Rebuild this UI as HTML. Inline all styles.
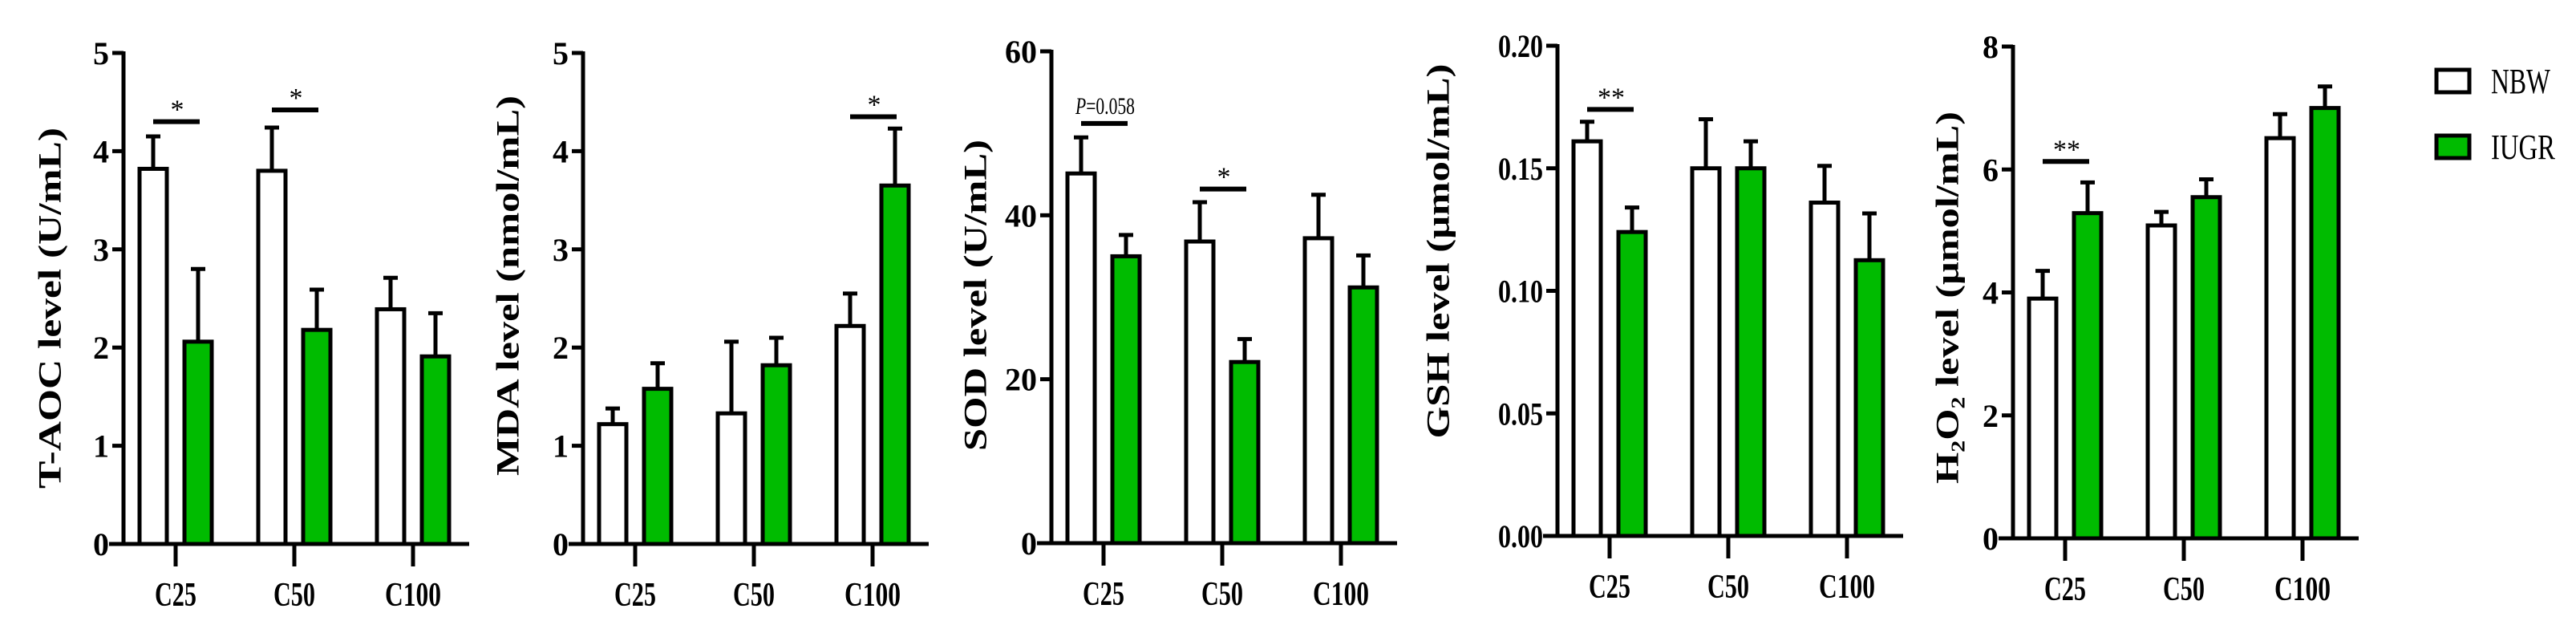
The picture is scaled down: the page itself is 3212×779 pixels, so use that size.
<!DOCTYPE html>
<html><head><meta charset="utf-8"><style>
html,body{margin:0;padding:0;background:#fff;}
svg{display:block;font-family:"Liberation Serif",serif;}
</style></head><body>
<svg id="chart" width="3212" height="779" viewBox="0 0 3212 779" xmlns="http://www.w3.org/2000/svg"></svg>
<script>
const categories = ["C25","C50","C100"];
// T-AOC
const taocNBW = [3.82, 3.80, 2.39];
const taocNBWErr = [4.15, 4.24, 2.71];
const taocIUGR = [2.06, 2.18, 1.91];
const taocIUGRErr = [2.80, 2.59, 2.35];
const taocTicks = ["0","1","2","3","4","5"];
// MDA
const mdaNBW = [1.22, 1.33, 2.22];
const mdaNBWErr = [1.38, 2.06, 2.55];
const mdaIUGR = [1.58, 1.82, 3.65];
const mdaIUGRErr = [1.84, 2.10, 4.23];
const mdaTicks = ["0","1","2","3","4","5"];
// SOD
const sodNBW = [45.1, 36.8, 37.2];
const sodNBWErr = [49.5, 41.6, 42.5];
const sodIUGR = [35.0, 22.1, 31.2];
const sodIUGRErr = [37.6, 24.9, 35.1];
const sodTicks = ["0","20","40","60"];
// GSH
const gshNBW = [0.161, 0.150, 0.136];
const gshNBWErr = [0.169, 0.170, 0.151];
const gshIUGR = [0.124, 0.150, 0.1125];
const gshIUGRErr = [0.134, 0.161, 0.1316];
const gshTicks = ["0.00","0.05","0.10","0.15","0.20"];
// H2O2
const h2o2NBW = [3.90, 5.09, 6.51];
const h2o2NBWErr = [4.35, 5.31, 6.90];
const h2o2IUGR = [5.29, 5.55, 7.00];
const h2o2IUGRErr = [5.79, 5.84, 7.35];
const h2o2Ticks = ["0","2","4","6","8"];

const NS = "http://www.w3.org/2000/svg";
const svg = document.getElementById("chart");
function mk(tag, attrs, parent){
  const e = document.createElementNS(NS, tag);
  for (const k in attrs) e.setAttribute(k, attrs[k]);
  (parent||svg).appendChild(e);
  return e;
}

const panels = [
  {key:"taoc", ax:154, top:66, zero:678, max:5, ticks:taocTicks, nbw:taocNBW, nbwE:taocNBWErr, iugr:taocIUGR, iugrE:taocIUGRErr,
   title:"T-AOC level (U/mL)", tx:62, ty:384, tl:450,
   sig:[{cat:0, y:4.30, label:"*"},{cat:1, y:4.42, label:"*"}]},
  {key:"mda", ax:727, top:66, zero:678, max:5, ticks:mdaTicks, nbw:mdaNBW, nbwE:mdaNBWErr, iugr:mdaIUGR, iugrE:mdaIUGRErr,
   title:"MDA level (nmol/mL)", tx:633, ty:356, tl:474,
   sig:[{cat:2, y:4.35, label:"*"}]},
  {key:"sod", ax:1311, top:64, zero:677, max:60, ticks:sodTicks, nbw:sodNBW, nbwE:sodNBWErr, iugr:sodIUGR, iugrE:sodIUGRErr,
   title:"SOD level (U/mL)", tx:1216, ty:368, tl:388,
   sig:[{cat:0, y:51.2, label:"P=0.058"},{cat:1, y:43.2, label:"*"}]},
  {key:"gsh", ax:1942, top:57, zero:668, max:0.20, ticks:gshTicks, nbw:gshNBW, nbwE:gshNBWErr, iugr:gshIUGR, iugrE:gshIUGRErr,
   title:"GSH level (μmol/mL)", tx:1793, ty:313, tl:467,
   sig:[{cat:0, y:0.174, label:"**"}]},
  {key:"h2o2", ax:2510, top:58, zero:671, max:8, ticks:h2o2Ticks, nbw:h2o2NBW, nbwE:h2o2NBWErr, iugr:h2o2IUGR, iugrE:h2o2IUGRErr,
   title:"H₂O₂ level (μmol/mL)", tx:2428, ty:371, tl:464,
   sig:[{cat:0, y:6.13, label:"**"}]}
];

panels.forEach(p => {
  const g = mk("g", {});
  
  
  const yS = v => p.zero - (v / p.max) * (p.zero - p.top);
  const xS = i => p.ax + 65 + i * 148;
  const bw = 34, off = 28;

  // y axis
  const ya = mk("line", {x1:p.ax, y1:p.top-2, x2:p.ax, y2:p.zero, stroke:"#000","stroke-width":5}, g);
  
  
  const n = p.ticks.length - 1;
  p.ticks.forEach((t, i) => {
    const v = p.max * i / n;
    const y = yS(v);
    const tk = mk("line", {x1:p.ax-14, y1:y, x2:p.ax, y2:y, stroke:"#000","stroke-width":5}, g);
    
    
    const attrs = {x:p.ax-18, y:y+14, "text-anchor":"end", "font-size":40, "font-weight":"bold", fill:"#000"};
    if (t.length > 2) { attrs.textLength = t.length*14; attrs.lengthAdjust = "spacingAndGlyphs"; }
    const tl = mk("text", attrs, g);
    tl.textContent = t;
    
    
  });
  // x axis
  const xa = mk("line", {x1:p.ax-18, y1:p.zero, x2:xS(2)+70, y2:p.zero, stroke:"#000","stroke-width":5}, g);
  
  

  categories.forEach((c, i) => {
    const cx = xS(i);
    const xt = mk("line", {x1:cx, y1:p.zero, x2:cx, y2:p.zero+28, stroke:"#000","stroke-width":5}, g);
    
    
    const cl = mk("text", {x:cx, y:p.zero+77, "text-anchor":"middle", "font-size":42, "font-weight":"bold",
      textLength: c.length===4 ? 70 : 52, lengthAdjust:"spacingAndGlyphs", fill:"#000"}, g);
    cl.textContent = c;
    
    

    [[p.nbw, p.nbwE, -off, "#fff", "nbw"], [p.iugr, p.iugrE, off, "#00bb00", "iugr"]].forEach(([vals, errs, dx, fill, nm]) => {
      const bx = cx + dx;
      const ye = yS(errs[i]);
      const yt = yS(vals[i]);
      const el = mk("line", {x1:bx, y1:ye, x2:bx, y2:yt, stroke:"#000","stroke-width":5}, g);
      
      
      const cap = mk("line", {x1:bx-9, y1:ye, x2:bx+9, y2:ye, stroke:"#000","stroke-width":5}, g);
      
      
      const r = mk("rect", {x:bx-bw/2, y:yt, width:bw, height:p.zero-yt, fill:fill, stroke:"#000","stroke-width":5}, g);
      
      
    });
  });

  p.sig.forEach(s => {
    const cx = xS(s.cat);
    const y = yS(s.y);
    const ln = mk("line", {x1:cx-off, y1:y, x2:cx+off+2, y2:y, stroke:"#000","stroke-width":6}, g);
    
    
    let t;
    if (s.label.startsWith("P")) {
      t = mk("text", {x:cx+2, y:y-12, "text-anchor":"middle", "font-size":30, textLength:74, lengthAdjust:"spacingAndGlyphs", fill:"#000"}, g);
      const ts = mk("tspan", {"font-style":"italic"}, t); ts.textContent = "P";
      const ts2 = mk("tspan", {}, t); ts2.textContent = "=0.058";
    } else {
      t = mk("text", {x:cx+2, y:y-4, "text-anchor":"middle", "font-size":34, fill:"#000"}, g);
      t.textContent = s.label;
    }
    
    
  });

  const tt = mk("text", {x:p.tx, y:p.ty, transform:`rotate(-90 ${p.tx} ${p.ty})`, "text-anchor":"middle",
    "dominant-baseline":"central", "font-size":40, "font-weight":"bold", textLength:p.tl, lengthAdjust:"spacingAndGlyphs", fill:"#000"}, g);
  tt.textContent = p.title;
  
  
});

// legend
const lg = mk("g", {});


[["NBW","#fff",87],["IUGR","#00bb00",169]].forEach(([lab, fill, y]) => {
  const e = mk("g", {}, lg);
  
  
  const r = mk("rect", {x:3038, y:y, width:41, height:28, fill:fill, stroke:"#000","stroke-width":5}, e);
  
  
  const t = mk("text", {x:3106, y:y+29, "font-size":44, textLength: lab==="NBW"?74:80, lengthAdjust:"spacingAndGlyphs", fill:"#000"}, e);
  t.textContent = lab;
  
  
});
</script>
</body></html>
